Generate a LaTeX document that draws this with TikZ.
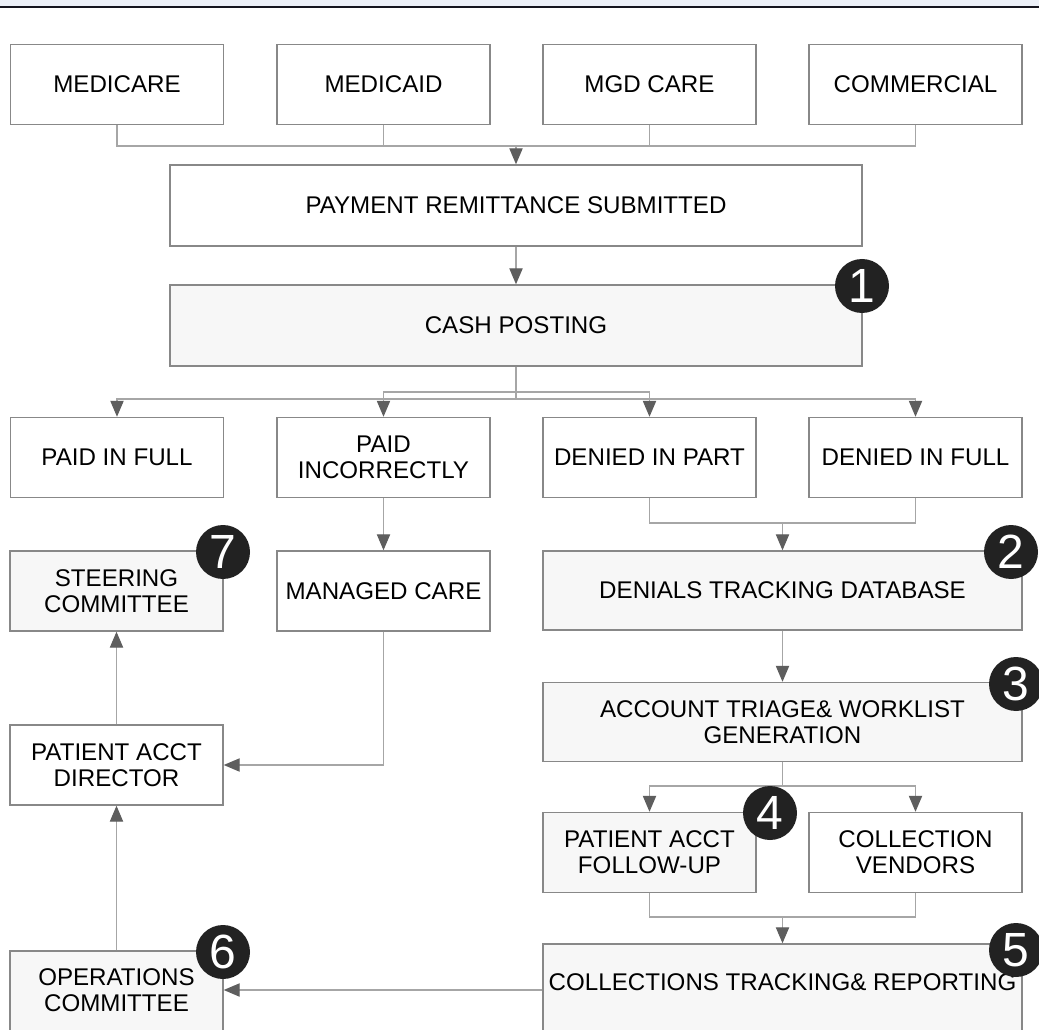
\documentclass[tikz,border=0pt]{standalone}
\usepackage{fontspec}
\setmainfont{Liberation Sans}
\usetikzlibrary{arrows.meta,calc}
\definecolor{boxline}{HTML}{888888}
\definecolor{conn}{HTML}{A6A6A6}
\definecolor{tipc}{HTML}{5E5E5E}
\definecolor{numfill}{HTML}{F7F7F7}
\definecolor{badge}{HTML}{222222}
\definecolor{band}{HTML}{ECF0F8}
\definecolor{bandline}{HTML}{15151F}
\newcommand{\boxfont}{\fontsize{18.1pt}{19.5pt}\selectfont}
\begin{document}
\begin{tikzpicture}[x=0.75pt,y=-0.75pt,
  box/.style={draw=boxline, line width=1.1pt, fill=white, rectangle, inner sep=0pt, align=center, font=\boxfont, text=black},
  shaded/.style={box, fill=numfill},
  small/.style={minimum width=159.75pt, minimum height=60pt},
  wide/.style={minimum width=519pt, minimum height=60.75pt},
  half/.style={minimum width=359.25pt, minimum height=59.25pt},
  inlabel/.style={font=\boxfont, text=black, align=center},
  badgenode/.style={circle, fill=badge, inner sep=0pt, minimum size=40.5pt, text=white, font=\fontsize{36pt}{36pt}\selectfont},
  conline/.style={draw=conn, line width=0.8pt},
  arr/.style={conline, -{Triangle[length=12pt,width=10pt,color=tipc]}}
]
\useasboundingbox (0,0) rectangle (1039,1030);
\clip (0,0) rectangle (1039,1030);
\fill[white] (0,0) rectangle (1039,1030);
\fill[band] (0,0) rectangle (1039,6.5);
\draw[bandline, line width=1pt] (0,7) -- (1039,7);

% row 1
\node[box,small] (medicare) at (117,84.5) {MEDICARE};
\node[box,small] (medicaid) at (383.5,84.5) {MEDICAID};
\node[box,small] (mgd) at (649.5,84.5) {MGD CARE};
\node[box,small] (commercial) at (915.5,84.5) {COMMERCIAL};

\node[box,wide] (pay) at (516,205.5) {PAYMENT REMITTANCE SUBMITTED};
\node[shaded,wide] (cash) at (516,325.5) {CASH POSTING};

% row 3
\node[box,small] (pif) at (117,457.5) {PAID IN FULL};
\node[box,small] (pinc) at (383.5,457.5) {PAID\\INCORRECTLY};
\node[box,small] (dip) at (649.5,457.5) {DENIED IN PART};
\node[box,small] (dif) at (915.5,457.5) {DENIED IN FULL};

% row 4
\node[shaded,small] (steer) at (116.5,591) {STEERING\\COMMITTEE};
\node[box,small] (mc) at (383.5,591) {MANAGED CARE};
\node[shaded,half] (den) at (782.5,590.5) {DENIALS TRACKING DATABASE};

\node[shaded,half] (tri) at (782.5,722) {ACCOUNT TRIAGE\& WORKLIST\\GENERATION};
\node[box,small] (dir) at (116.5,765) {PATIENT ACCT\\DIRECTOR};

\node[shaded,small] (fu) at (649.5,852.5) {PATIENT ACCT\\FOLLOW-UP};
\node[box,small] (cv) at (915.5,852.5) {COLLECTION\\VENDORS};

\node[shaded,half,minimum height=72pt,
  label={[inlabel,yshift=7.5pt]center:COLLECTIONS TRACKING\& REPORTING}] (coll) at (782.5,992) {};
\node[shaded,small,minimum height=67.5pt,
  label={[inlabel,yshift=4.5pt]center:OPERATIONS\\COMMITTEE}] (ops) at (116.5,996) {};

% junctions
\coordinate (j0) at (516,146);
\coordinate (j1) at (516,399);
\coordinate (j1b) at (516,392);
\coordinate (j2) at (782.5,523);
\coordinate (j3) at (782.5,786);
\coordinate (j4) at (782.5,917);
\coordinate (jc) at (543,990);

% connectors
\draw[conline] (medicare.south) |- (j0);
\draw[conline] (medicaid.south) |- (j0);
\draw[conline] (mgd.south) |- (j0);
\draw[conline] (commercial.south) |- (j0);
\draw[arr] (j0) -- (pay.north);
\draw[arr] (pay.south) -- (cash.north);

\draw[conline] (cash.south) -- (j1);
\draw[arr] (j1) -| (pif.north);
\draw[arr] (j1) -| (dif.north);
\draw[arr] (j1b) -| (pinc.north);
\draw[arr] (j1b) -| (dip.north);

\draw[arr] (pinc.south) -- (mc.north);
\draw[arr] (mc.south) |- (dir.east);
\draw[arr] (dir.north) -- (steer.south);
\draw[arr] (ops.north) -- (dir.south);

\draw[conline] (dip.south) |- (j2);
\draw[conline] (dif.south) |- (j2);
\draw[arr] (j2) -- (den.north);
\draw[arr] (den.south) -- (tri.north);
\draw[conline] (tri.south) -- (j3);
\draw[arr] (j3) -| (fu.north);
\draw[arr] (j3) -| (cv.north);
\draw[conline] (fu.south) |- (j4);
\draw[conline] (cv.south) |- (j4);
\draw[arr] (j4) -- (coll.north);
\draw[arr] (coll.west |- jc) -- (ops.east |- jc);

% badges
\node[badgenode] (b1) at (862,286) {1};
\node[badgenode] (b2) at (1011,552) {2};
\node[badgenode] (b3) at (1016,684) {3};
\node[badgenode] (b4) at (770,813) {4};
\node[badgenode] (b5) at (1016,950) {5};
\node[badgenode] (b6) at (223,952) {6};
\node[badgenode] (b7) at (223,552) {7};
\end{tikzpicture}
\end{document}
